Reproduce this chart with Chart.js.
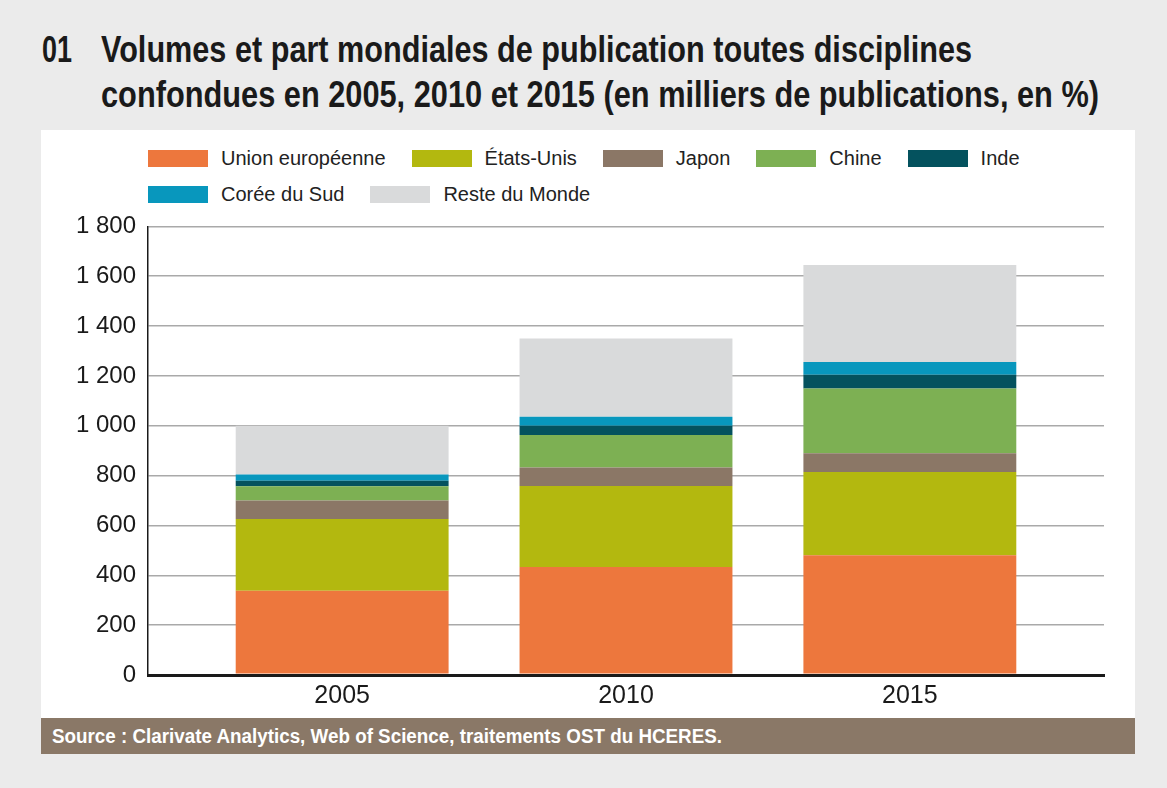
<!DOCTYPE html>
<html lang="fr">
<head>
  <meta charset="UTF-8" />
  <title>Volumes et part mondiales de publication</title>
  <script src="https://cdn.jsdelivr.net/npm/chart.js"></script>
  <style>
    html, body {
      margin: 0;
      padding: 0;
      width: 1167px;
      height: 788px;
      background: #ebebeb;
      overflow: hidden;
      font-family: 'Liberation Sans', Arial, sans-serif;
      color: #1a1a1a;
    }
    /* police condensée absente : on resserre la Liberation Sans */
    .narrow {
      position: absolute;
      font-weight: bold;
      white-space: nowrap;
      transform-origin: 0 0;
    }
    .title {
      font-size: 36px;
      line-height: 46px;
    }
    #title-num { left: 42px; top: 27px; }
    #title-1 { left: 101px; top: 27px; }
    #title-2 { left: 101px; top: 72px; }
    #panel {
      position: absolute;
      left: 41px;
      top: 130px;
      width: 1094px;
      height: 588px;
      background: #fff;
    }
    #legend {
      position: absolute;
      left: 148px;
      top: 145px;
      width: 956px;
      display: flex;
      flex-wrap: wrap;
      font-size: 20px;
      line-height: 26px;
      row-gap: 10px;
      color: #222;
    }
    .item {
      display: flex;
      align-items: center;
      margin-right: 26px;
      white-space: nowrap;
    }
    .swatch {
      width: 60px;
      height: 17px;
      margin-right: 13px;
    }
    #chart-box {
      position: absolute;
      left: 41px;
      top: 200px;
      width: 1094px;
      height: 518px;
    }
    #source-bar {
      position: absolute;
      left: 41px;
      top: 718px;
      width: 1094px;
      height: 36px;
      background: #8a7867;
    }
    #source {
      left: 52px;
      top: 718px;
      color: #fff;
      font-size: 20px;
      line-height: 36px;
    }
  </style>
</head>
<body>

  <div id="title-num" class="narrow title">01</div>
  <div id="title-1" class="narrow title">Volumes et part mondiales de publication toutes disciplines</div>
  <div id="title-2" class="narrow title">confondues en 2005, 2010 et 2015 (en milliers de publications, en %)</div>

  <div id="panel"></div>
  <div id="legend"></div>
  <div id="chart-box"><canvas id="chart" width="1094" height="518"></canvas></div>

  <div id="source-bar"></div>
  <div id="source" class="narrow">Source : Clarivate Analytics, Web of Science, traitements OST du HCERES.</div>

  <script>
    // années (axe x)
    const years = [2005, 2010, 2015];

    // volumes en milliers de publications
    const unionEuropeenne = [338, 433, 480];
    const etatsUnis = [288, 325, 335];
    const japon = [74, 75, 75];
    const chine = [57, 130, 260];
    const inde = [22, 37, 55];
    const coreeDuSud = [26, 36, 51];
    const resteDuMonde = [195, 314, 389];

    const seriesNames = ['Union européenne', 'États-Unis', 'Japon', 'Chine', 'Inde', 'Corée du Sud', 'Reste du Monde'];
    const seriesValues = [unionEuropeenne, etatsUnis, japon, chine, inde, coreeDuSud, resteDuMonde];
    const seriesColors = ['#ed773d', '#b3b80f', '#8b7766', '#7db053', '#04525e', '#0897bd', '#d9dadb'];

    const yTicks = [0, 200, 400, 600, 800, 1000, 1200, 1400, 1600, 1800];

    // largeur visée de chaque texte (px) -> compression horizontale
    const fitWidths = { 'title-num': 30, 'title-1': 871, 'title-2': 998, 'source': 670 };
    Object.keys(fitWidths).forEach(id => {
      const el = document.getElementById(id);
      const w = el.getBoundingClientRect().width;
      el.style.transform = 'scaleX(' + (fitWidths[id] / w) + ')';
    });

    // légende HTML
    const legend = document.getElementById('legend');
    seriesNames.forEach((name, i) => {
      const item = document.createElement('div');
      item.className = 'item';
      item.innerHTML = '<span class="swatch" style="background:' + seriesColors[i] + '"></span><span>' + name + '</span>';
      legend.appendChild(item);
    });

    function fmt(v) {
      if (v >= 1000) return Math.floor(v / 1000) + ' ' + String(v % 1000).padStart(3, '0');
      return String(v);
    }

    const datasets = seriesNames.map((name, i) => ({
      label: name,
      data: years.map((yr, j) => ({ x: yr, y: seriesValues[i][j] })),
      backgroundColor: seriesColors[i],
      borderWidth: 0,
      categoryPercentage: 0.75,
      barPercentage: 1
    }));

    const ctx = document.getElementById('chart').getContext('2d');
    new Chart(ctx, {
      type: 'bar',
      data: { datasets: datasets },
      options: {
        responsive: false,
        animation: false,
        layout: { padding: { top: 22, right: 31, left: 0, bottom: 0 } },
        plugins: {
          legend: { display: false },
          tooltip: { enabled: false }
        },
        scales: {
          x: {
            type: 'linear',
            stacked: true,
            offset: false,
            min: 2001.58,
            max: 2018.42,
            afterBuildTicks: (scale) => { scale.ticks = years.map(v => ({ value: v })); },
            afterFit: (scale) => { scale.height = 43; },
            grid: { display: false, drawTicks: false },
            border: { display: true, color: '#1a1a1a', width: 3 },
            ticks: {
              padding: 6,
              color: '#1a1a1a',
              font: { family: "'Liberation Sans', Arial, sans-serif", size: 25 },
              callback: (v) => String(v)
            }
          },
          y: {
            stacked: true,
            min: 0,
            max: 1800,
            afterBuildTicks: (scale) => { scale.ticks = yTicks.map(v => ({ value: v })); },
            afterFit: (scale) => { scale.width = 107; },
            grid: {
              drawTicks: false,
              color: (c) => c.tick && c.tick.value === 0 ? '#1a1a1a' : '#a9a9a9',
              lineWidth: (c) => c.tick && c.tick.value === 0 ? 3 : 1.5
            },
            border: { display: true, color: '#1a1a1a', width: 1.5 },
            ticks: {
              padding: 12,
              color: '#1a1a1a',
              font: { family: "'Liberation Sans', Arial, sans-serif", size: 24 },
              callback: (v) => fmt(v)
            }
          }
        }
      }
    });
  </script>
</body>
</html>
